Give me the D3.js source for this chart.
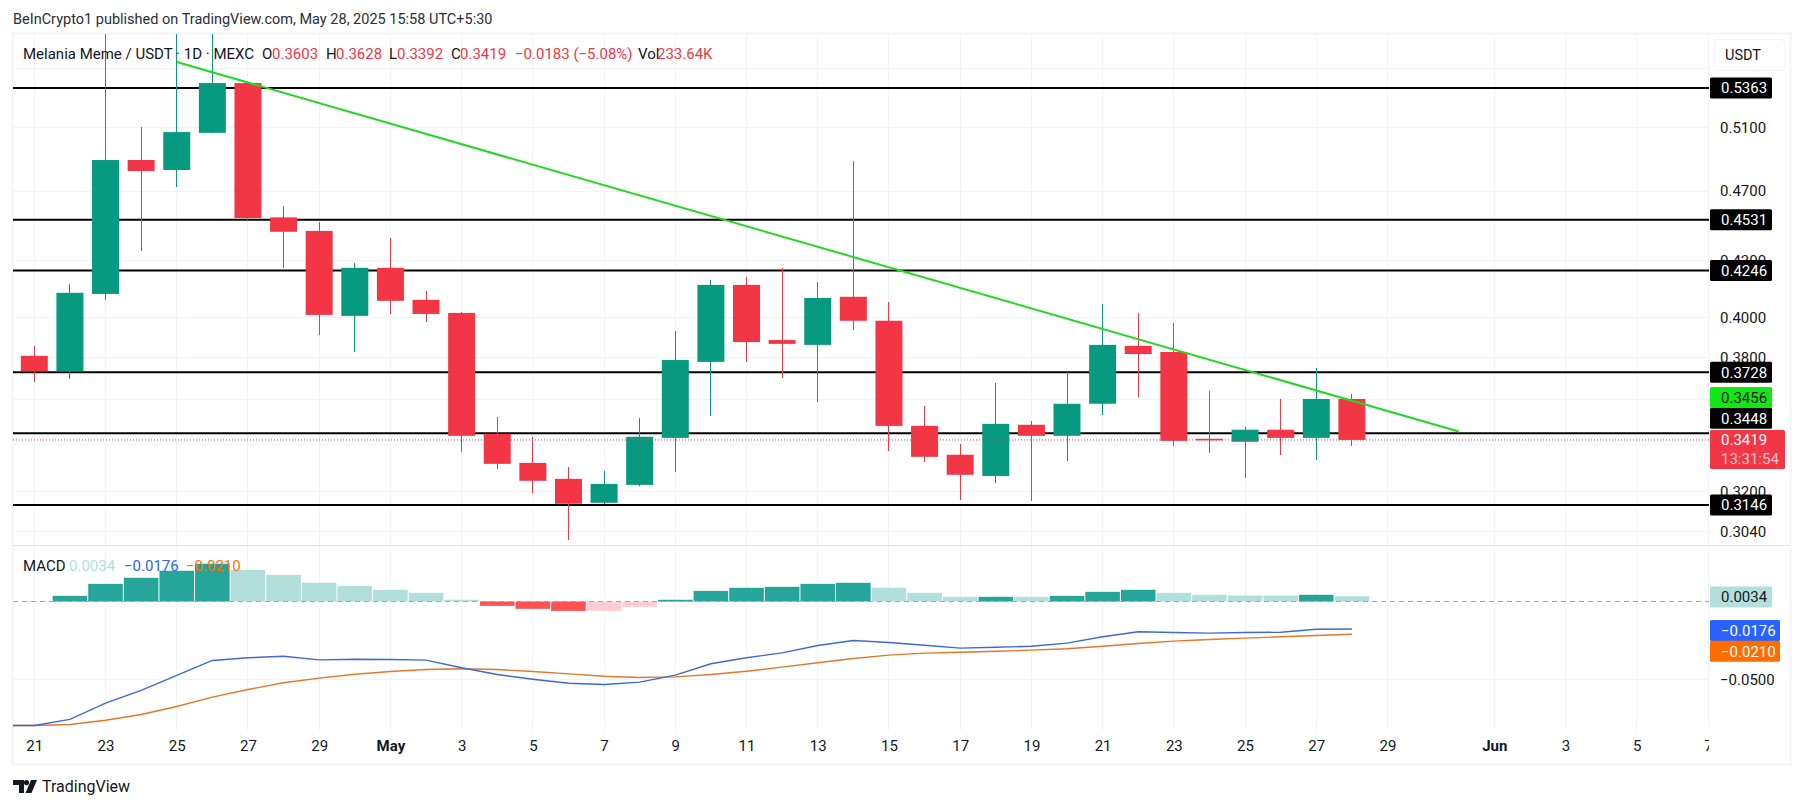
<!DOCTYPE html>
<html>
<head>
<meta charset="utf-8">
<script src="https://cdn.jsdelivr.net/npm/d3@7"></script>
<style>
  body { margin: 0; background: #fff; }
  text { font-family: Roboto, sans-serif; fill: #131722; }
</style>
</head>
<body>
<svg id="chart" width="1804" height="809"></svg>
<script>
// daily candles from Apr 21 to May 28
const opens  = [.3807,.3734,.4121,.4891,.4829,.5064,.5397,.4545,.4467,.4007,.4261,.4090,.4022,.3446,.3320,.3253,.3155,.3228,.3428,.3778,.4169,.3885,.3861,.4106,.3982,.3481,.3355,.3265,.3486,.3437,.3581,.3856,.3826,.3424,.3411,.3464,.3428,.3603]
const highs  = [.3856,.4173,.6200,.5100,.6100,.6000,.5397,.4611,.4518,.4288,.4427,.4137,.4027,.3522,.3433,.3303,.3287,.3517,.3930,.4196,.4212,.4261,.4185,.4885,.4080,.3572,.3402,.3678,.3503,.3730,.4069,.4022,.3971,.3641,.3477,.3604,.3749,.3628]
const lows   = [.3684,.3698,.4091,.4356,.4727,.5064,.4530,.4261,.3910,.3828,.4017,.3977,.3367,.3295,.3195,.3009,.3151,.3224,.3282,.3526,.3778,.3701,.3590,.3935,.3372,.3325,.3167,.3236,.3163,.3329,.3531,.3613,.3393,.3363,.3257,.3355,.3333,.3392]
const closes = [.3734,.4127,.4891,.4823,.5069,.5397,.4541,.4462,.4012,.4261,.4085,.4017,.3437,.3316,.3245,.3151,.3232,.3433,.3787,.4169,.3875,.3866,.4100,.3982,.3481,.3346,.3270,.3490,.3437,.3581,.3861,.3816,.3415,.3417,.3464,.3428,.3603,.3419]

// macd pane starts one day earlier, Apr 20 is cut by the left edge
const histValues = [-.0002,-.0002,.0036,.0113,.0152,.0197,.0242,.0203,.0171,.0120,.0100,.0075,.0056,.0011,-.0028,-.0047,-.0060,-.0060,-.0034,.0011,.0068,.0088,.0094,.0113,.0120,.0088,.0056,.0030,.0030,.0030,.0036,.0062,.0075,.0056,.0043,.0038,.0038,.0043,.0034]
const histColors = ["#ffcdd2","#ffcdd2","#26a69a","#26a69a","#26a69a","#26a69a","#26a69a","#b2dfdb","#b2dfdb","#b2dfdb","#b2dfdb","#b2dfdb","#b2dfdb","#b2dfdb","#ff5252","#ff5252","#ff5252","#ffcdd2","#ffcdd2","#26a69a","#26a69a","#26a69a","#26a69a","#26a69a","#26a69a","#b2dfdb","#b2dfdb","#b2dfdb","#26a69a","#b2dfdb","#26a69a","#26a69a","#26a69a","#b2dfdb","#b2dfdb","#b2dfdb","#b2dfdb","#26a69a","#b2dfdb"]
const macdLine = [-.0795,-.0795,-.0756,-.0652,-.0570,-.0474,-.0378,-.0361,-.0351,-.0374,-.0370,-.0372,-.0376,-.0425,-.0468,-.0498,-.0524,-.0532,-.0517,-.0472,-.0399,-.0361,-.0329,-.0282,-.0250,-.0263,-.0280,-.0299,-.0293,-.0287,-.0267,-.0226,-.0194,-.0199,-.0203,-.0199,-.0197,-.0178,-.0176]
const signalLine = [-.0795,-.0795,-.0788,-.0761,-.0724,-.0673,-.0613,-.0564,-.0521,-.0491,-.0466,-.0449,-.0436,-.0431,-.0436,-.0449,-.0464,-.0479,-.0487,-.0483,-.0468,-.0447,-.0421,-.0393,-.0365,-.0344,-.0331,-.0325,-.0319,-.0312,-.0303,-.0287,-.0269,-.0254,-.0244,-.0235,-.0226,-.0218,-.0210]

const levels = [.5363,.4531,.4246,.3728,.3448,.3146]
const gridPrices = [.55,.51,.47,.43,.40,.38,.36,.34,.32,.304]
const labelPrices = [.51,.47,.43,.40,.38,.32,.304]
const trendPrices = [.5544,.3456]
const lastPrice = .3419

const UP = "#089981", DOWN = "#f23645", TREND = "#22d822"
const LEFT = 13, RIGHT = 1709, TOP = 34, PANE = 545, BOTTOM = 730

const day0 = new Date(Date.UTC(2025, 3, 21))
const dayAt = (i) => d3.utcDay.offset(day0, i)
const tickDays = d3.range(0, 40, 2).concat([41, 43, 45, 47]).map(dayAt)

const x = d3.scaleUtc().domain([day0, dayAt(47)]).range([34.3, 1708])
const y = d3.scaleLog().domain([.3146, .5363]).range([505, 88])
const yMacd = d3.scaleLinear().domain([-.05, 0]).range([679.5, 601.5])

const fmt = d3.format(".4f")
const svg = d3.select("#chart")

const defs = svg.append("defs")
const addClip = (id, x0, y0, w, h) => defs.append("clipPath").attr("id", id).append("rect")
  .attr("x", x0).attr("y", y0).attr("width", w).attr("height", h)
addClip("mainClip", LEFT, TOP, RIGHT - LEFT, PANE - TOP)
addClip("macdClip", LEFT, PANE, RIGHT - LEFT, BOTTOM - PANE)
addClip("timeClip", LEFT, -8, RIGHT - LEFT, 34)

// frame
svg.append("rect").attr("x", 12.5).attr("y", 33.5).attr("width", 1778).attr("height", 731)
  .attr("fill", "none").attr("stroke", "#f3f4f8").attr("stroke-width", 2)

// grid
svg.append("g").selectAll("line").data(tickDays).join("line")
  .attr("x1", (d) => x(d)).attr("x2", (d) => x(d)).attr("y1", TOP).attr("y2", BOTTOM)
  .attr("stroke", "#f0f3fa").attr("shape-rendering", "crispEdges")
svg.append("g").selectAll("line").data(gridPrices).join("line")
  .attr("x1", LEFT).attr("x2", RIGHT).attr("y1", (d) => y(d)).attr("y2", (d) => y(d))
  .attr("stroke", "#f0f3fa").attr("shape-rendering", "crispEdges")
svg.append("line").attr("x1", LEFT).attr("x2", RIGHT).attr("y1", yMacd(-.05)).attr("y2", yMacd(-.05))
  .attr("stroke", "#f0f3fa").attr("shape-rendering", "crispEdges")
svg.append("line").attr("x1", 13).attr("x2", 1790).attr("y1", PANE).attr("y2", PANE)
  .attr("stroke", "#e0e3eb").attr("shape-rendering", "crispEdges")

// horizontal levels
svg.append("g").selectAll("line").data(levels).join("line")
  .attr("x1", LEFT).attr("x2", RIGHT).attr("y1", (d) => y(d)).attr("y2", (d) => y(d))
  .attr("stroke", "#000").attr("stroke-width", 2)

// candles
const candles = svg.append("g").attr("clip-path", "url(#mainClip)")
  .selectAll("g").data(opens.map((o, i) => ({date: dayAt(i), o, h: highs[i], l: lows[i], c: closes[i]}))).join("g")
const candleColor = (d) => d.c >= d.o ? UP : DOWN
candles.append("line")
  .attr("x1", (d) => x(d.date)).attr("x2", (d) => x(d.date))
  .attr("y1", (d) => y(d.h)).attr("y2", (d) => y(d.l))
  .attr("stroke", candleColor).attr("shape-rendering", "crispEdges")
candles.append("rect")
  .attr("x", (d) => x(d.date) - 13.5).attr("width", 27)
  .attr("y", (d) => y(Math.max(d.o, d.c)))
  .attr("height", (d) => Math.max(1, Math.abs(y(d.o) - y(d.c))))
  .attr("fill", candleColor)

// falling trend line, Apr 25 to May 31
svg.append("line").attr("clip-path", "url(#mainClip)")
  .attr("x1", x(dayAt(4))).attr("y1", y(trendPrices[0]))
  .attr("x2", x(dayAt(40))).attr("y2", y(trendPrices[1]))
  .attr("stroke", TREND).attr("stroke-width", 2)

// last price
svg.append("line").attr("x1", LEFT).attr("x2", RIGHT).attr("y1", y(lastPrice)).attr("y2", y(lastPrice))
  .attr("stroke", DOWN).attr("stroke-dasharray", "1 2")

// macd pane
const macdDays = macdLine.map((v, i) => dayAt(i - 1))
const macdPane = svg.append("g").attr("clip-path", "url(#macdClip)")
macdPane.selectAll("rect").data(histValues).join("rect")
  .attr("x", (d, i) => x(macdDays[i]) - 17.3).attr("width", 34.6)
  .attr("y", (d) => Math.min(yMacd(d), yMacd(0)))
  .attr("height", (d) => Math.abs(yMacd(d) - yMacd(0)))
  .attr("fill", (d, i) => histColors[i])
macdPane.append("line").attr("x1", LEFT).attr("x2", RIGHT).attr("y1", yMacd(0)).attr("y2", yMacd(0))
  .attr("stroke", "#a3a6af").attr("stroke-dasharray", "5 4")
const macdPath = d3.line().x((d, i) => x(macdDays[i])).y((d) => yMacd(d))
macdPane.append("path").attr("d", macdPath(signalLine)).attr("fill", "none").attr("stroke", "#e6762a").attr("stroke-width", 1.4)
macdPane.append("path").attr("d", macdPath(macdLine)).attr("fill", "none").attr("stroke", "#3d68d8").attr("stroke-width", 1.4)

// axes
const priceAxis = svg.append("g").attr("transform", "translate(1709,0)")
  .call(d3.axisRight(y).tickValues(labelPrices).tickFormat(fmt).tickSize(0).tickPadding(11))
const macdAxis = svg.append("g").attr("transform", "translate(1709,0)")
  .call(d3.axisRight(yMacd).tickValues([-.05]).tickFormat(fmt).tickSize(0).tickPadding(11))
const timeAxis = svg.append("g").attr("transform", "translate(0,738)").attr("clip-path", "url(#timeClip)")
  .call(d3.axisBottom(x).tickValues(tickDays).tickSize(0).tickPadding(2)
    .tickFormat((d) => d3.utcFormat(d.getUTCDate() == 1 ? "%b" : "%-d")(d)))
for (const a of [priceAxis, macdAxis, timeAxis]) {
  a.select(".domain").remove()
  a.selectAll("text").attr("font-size", 15).attr("font-family", null).attr("fill", "#2a2e39")
}
timeAxis.selectAll("text").filter((d) => d.getUTCDate() == 1).attr("font-weight", "bold")

// price badges, the crowded ones are pushed apart as on the chart
const badge = (center, w, h, bg, color, label) => {
  svg.append("rect").attr("x", 1710).attr("y", center - h / 2).attr("width", w).attr("height", h).attr("rx", 1.5).attr("fill", bg)
  svg.append("text").attr("x", 1721).attr("y", center).attr("dy", "0.36em").attr("font-size", 15).style("fill", color).text(label)
}
const badgeShift = [0, 0, 0, 0, -15, 0]
levels.forEach((v, i) => badge(y(v) + badgeShift[i], 62, 21, "#000", "#fff", fmt(v)))
badge(y(trendPrices[1]) - 34, 62, 21, "#13e613", "#131722", fmt(trendPrices[1]))
svg.append("rect").attr("x", 1710).attr("y", 430).attr("width", 75).attr("height", 39).attr("rx", 1.5).attr("fill", DOWN)
svg.append("text").attr("x", 1721).attr("y", y(lastPrice)).attr("dy", "0.36em").attr("font-size", 15).style("fill", "#fff").text(fmt(lastPrice))
svg.append("text").attr("x", 1721).attr("y", 459).attr("dy", "0.36em").attr("font-size", 15).style("fill", "#ffc4cb").text("13:31:54")
badge(yMacd(0) - 4.5, 62, 21, "#b2dfdb", "#131722", fmt(histValues[histValues.length - 1]))
badge(yMacd(macdLine[macdLine.length - 1]) + 1.5, 70, 21, "#2962ff", "#fff", fmt(macdLine[macdLine.length - 1]))
badge(yMacd(signalLine[signalLine.length - 1]) + 17, 70, 21, "#ff6d00", "#fff", fmt(signalLine[signalLine.length - 1]))

// USDT button
svg.append("rect").attr("x", 1714).attr("y", 39.5).attr("width", 71).attr("height", 31).attr("rx", 4).attr("fill", "#fff").attr("stroke", "#f0f3fa")
svg.append("text").attr("x", 1725).attr("y", 55).attr("dy", "0.36em").attr("font-size", 14.5).text("USDT")

// texts
const label = (tx, ty, txt, size, color) => svg.append("text").attr("x", tx).attr("y", ty).attr("dy", "0.36em")
  .attr("font-size", size).style("fill", color || "#131722").text(txt)

label(13, 18.5, "BeInCrypto1 published on TradingView.com, May 28, 2025 15:58 UTC+5:30", 14.5, "#2a2e39")
label(23, 54, "Melania Meme / USDT · 1D · MEXC", 15)
const legendParts = [[262, "O", "#131722"], [272, "0.3603", DOWN], [326, "H", "#131722"], [336, "0.3628", DOWN],
  [389, "L", "#131722"], [397, "0.3392", DOWN], [451, "C", "#131722"], [460, "0.3419", DOWN],
  [515, "−0.0183 (−5.08%)", DOWN], [638, "Vol", "#131722"], [657, "233.64K", DOWN]]
legendParts.forEach((p) => label(p[0], 54, p[1], 15, p[2]))

label(23, 566, "MACD", 15)
label(69, 566, fmt(histValues[histValues.length - 1]), 15, "#b2dfdb")
label(124, 566, fmt(macdLine[macdLine.length - 1]), 15, "#2962ff")
label(186, 566, fmt(signalLine[signalLine.length - 1]), 15, "#ff6d00")

// TradingView mark
svg.append("path").attr("fill", "#131722")
  .attr("d", "M13 780h11v13h-5v-8h-6z M26.5 780a2.6 2.6 0 1 1 0 5.2a2.6 2.6 0 1 1 0-5.2z M31 780h6l-5.5 13h-6z")
label(42, 786, "TradingView", 16, "#131722")
</script>
</body>
</html>
